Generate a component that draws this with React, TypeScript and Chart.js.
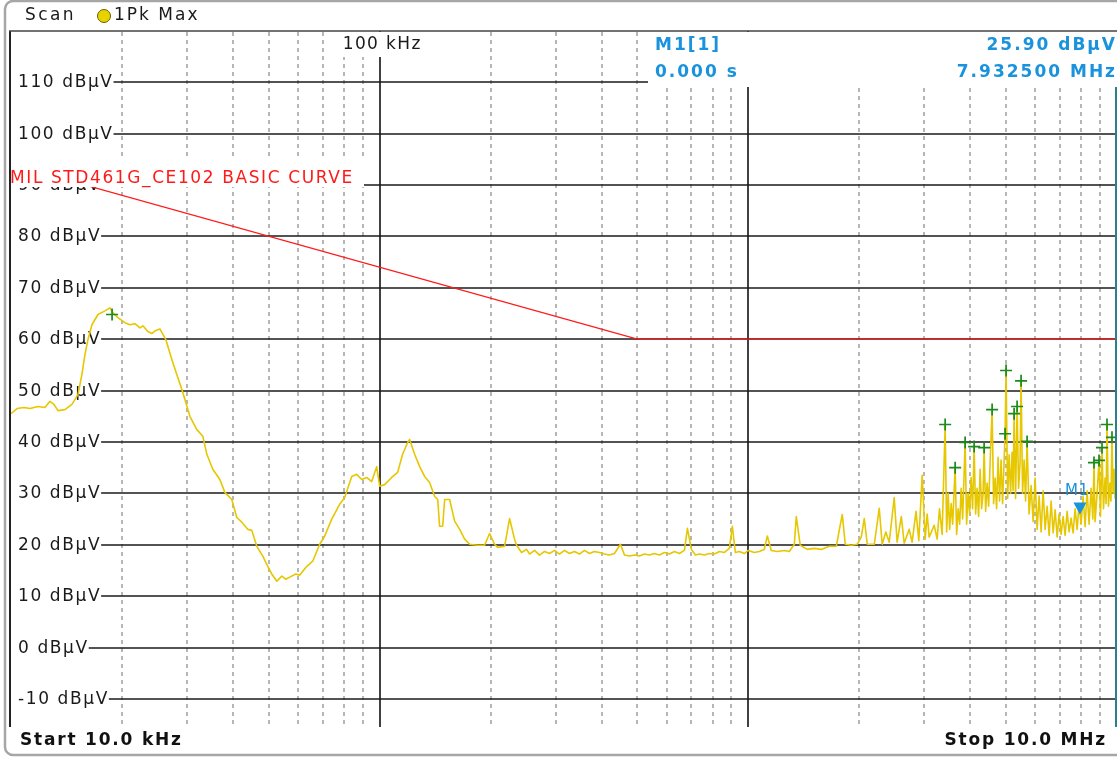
import React, { useEffect, useRef } from 'react';
import { Chart, registerables } from 'chart.js';

Chart.register(...registerables);

// ---------- DATA ----------
// Trace (1Pk Max), frequency in kHz and level in dBµV, split into segments
const lowFreqKHz = [
  10, 10.38, 10.84, 11.26, 11.84, 12.36, 12.75, 13.08, 13.41, 14.0, 14.63, 15.19, 15.57, 15.87, 16.17, 16.58, 17.21, 17.98, 18.55, 18.9,
  19.5, 20.37, 21.01, 21.68, 22.37, 22.79, 23.51, 24.1, 24.72, 25.34, 26.31, 27.32, 28.18, 29.07, 29.62, 30.56, 31.92, 33.14, 33.98, 35.27,
  36.85, 38.02, 39.71, 40.97, 42.27, 43.88, 44.99, 46.42, 48.19, 49.41, 50.97, 52.6, 54.26, 55.63, 57.04, 59.22, 60.72, 63.03, 65.84, 68.77,
  70.95, 74.13, 77.92, 80.39, 83.98, 86.65, 89.4, 92.22, 95.13, 98.15, 100, 103.2, 107.8, 111.9, 115.4, 119.1, 120.6, 124.4, 128.4, 132.4,
  136.6, 141.0, 143.7, 145.4, 148.2, 150.1, 154.8, 159.7, 164.8, 170.0, 175.4, 184.4, 192.6, 198.7, 205.0, 208.9, 218.2, 225.1, 232.2, 235.1,
  242.6, 250.3, 255.0, 263.1, 271.4, 280.1, 288.9, 298.1, 307.5, 317.2, 327.2, 337.6, 348.3, 359.3, 370.7, 382.4, 394.5, 407.0, 419.9, 433.4,
  449.9, 461.3, 475.9, 491.0, 506.5, 522.7, 539.2, 556.3, 573.9, 592.2, 610.9, 630.3, 650.2, 670.9, 683.5, 700.8, 718.5, 736.7, 760.1, 784.2,
  809.2, 834.6, 861.0, 888.2, 905.0, 922.1, 945.4, 975.4, 1000, 1038, 1071, 1105, 1126, 1154, 1198, 1252, 1292, 1333, 1349, 1383,
  1445, 1510, 1577, 1658, 1732, 1798, 1832, 1902, 1974, 2024, 2063, 2102,
];
const lowLevel = [
  45.5, 46.5, 46.7, 46.5, 46.9, 46.7, 47.9, 47.3, 46.1, 46.3, 47.3, 49.2, 53.1, 57.0, 59.9, 62.8, 64.8, 65.5, 66.1, 65.1,
  64.2, 63.2, 62.8, 63.0, 62.2, 62.6, 61.5, 61.1, 61.7, 62.0, 59.9, 56.0, 53.1, 50.2, 48.3, 45.0, 42.4, 41.1, 37.6, 34.7,
  32.7, 30.2, 28.8, 25.3, 24.4, 23.0, 22.8, 19.7, 17.8, 16.2, 14.3, 12.9, 13.9, 13.3, 13.7, 14.3, 14.1, 15.6, 16.8, 20.1,
  21.7, 25.0, 27.9, 29.2, 33.3, 33.7, 32.7, 33.1, 32.3, 35.2, 31.4, 31.7, 33.1, 34.1, 37.6, 39.9, 40.5, 37.6, 35.2, 33.3,
  32.1, 29.4, 28.8, 23.6, 23.6, 28.8, 28.8, 24.6, 23.0, 21.1, 20.1, 19.9, 19.9, 22.2, 20.1, 19.5, 19.7, 25.1, 21.1, 19.9,
  18.5, 19.1, 18.2, 18.9, 18.0, 18.7, 18.3, 18.9, 18.2, 18.9, 18.3, 18.7, 18.2, 18.9, 18.3, 18.7, 18.5, 18.2, 18.0, 18.3,
  20.1, 18.0, 17.8, 18.0, 17.8, 18.2, 18.0, 18.3, 18.0, 18.5, 18.2, 18.7, 18.3, 18.9, 23.2, 19.1, 18.0, 18.2, 18.0, 18.3,
  18.2, 18.7, 18.5, 19.3, 23.6, 18.5, 18.7, 18.3, 18.9, 18.5, 18.7, 19.1, 21.7, 18.9, 18.7, 18.9, 18.7, 20.1, 25.5, 19.9,
  19.1, 19.3, 19.1, 19.7, 19.7, 25.9, 20.1, 19.9, 20.1, 21.5, 25.1, 20.1,
];
const midFreqKHz = [2196, 2265, 2307, 2360, 2411, 2487, 2533, 2600, 2647, 2731, 2782, 2850, 2900, 2962, 3018, 3055, 3094, 3192, 3252, 3300, 3355, 3419];
const midLevel = [20.1, 27.1, 20.1, 22.5, 20.5, 29.2, 20.5, 25.5, 20.3, 23.0, 20.5, 26.5, 20.8, 33.5, 21.1, 26.0, 21.5, 23.8, 21.1, 27.0, 22.0, 43.4];
const burstFreqKHz = [
  3451, 3483, 3516, 3549, 3583, 3639, 3673, 3708, 3743, 3778, 3813, 3873, 3909, 3946, 3983, 4020, 4058, 4097, 4135, 4174,
  4213, 4253, 4293, 4334, 4361, 4402, 4443, 4485, 4527, 4584, 4627, 4670, 4714, 4758, 4803, 4848, 4894, 4971, 5002, 5050,
  5097, 5144, 5193, 5225, 5259, 5307, 5358, 5408, 5459, 5493, 5545, 5598, 5649, 5703,
];
const burstLevel = [
  22.5, 30.0, 23.0, 28.0, 24.0, 35.0, 22.0, 27.0, 24.0, 31.0, 25.0, 39.9, 24.0, 30.0, 26.0, 33.1, 27.0, 39.1, 26.0, 31.0,
  25.5, 34.7, 27.0, 30.0, 38.9, 26.5, 32.0, 27.5, 36.0, 46.3, 28.0, 33.0, 27.0, 37.0, 28.5, 36.5, 28.0, 41.6, 53.9, 29.0,
  37.5, 30.0, 38.0, 30.5, 45.5, 29.0, 46.9, 31.0, 36.0, 51.9, 30.0, 36.5, 28.5, 40.1,
];
const highFreqKHz = [
  5776, 5849, 5922, 5997, 6072, 6149, 6226, 6304, 6384, 6464, 6545, 6627, 6711, 6795, 6880, 6967, 7054, 7143, 7232, 7323,
  7415, 7508, 7602, 7698, 7794, 7892, 7991, 8092, 8193, 8296, 8400, 8506, 8600, 8662, 8721, 8830, 8937, 9020, 9106, 9190,
  9282, 9340, 9395, 9480, 9570, 9630, 9692, 9757, 9815, 9879, 10000,
];
const highLevel = [
  26.0, 31.5, 24.5, 33.0, 23.0, 29.5, 22.5, 30.5, 23.0, 27.5, 21.8, 28.5, 22.3, 26.8, 21.5, 26.0, 22.0, 25.5, 21.8, 26.5,
  22.5, 25.2, 22.3, 27.0, 23.0, 28.0, 24.0, 29.5, 23.5, 30.5, 24.0, 31.0, 25.0, 36.0, 24.5, 30.0, 36.4, 25.5, 38.9, 27.0,
  33.0, 28.0, 43.4, 27.5, 32.0, 28.5, 40.9, 30.0, 34.7, 29.0, 30.0,
];

const limitFreqKHz = [10, 500, 10000];
const limitLevel = [94, 60, 60];

const peakFreqKHz = [18.8, 3419, 3639, 3873, 4097, 4361, 4584, 4971, 5002, 5259, 5358, 5493, 5703, 8662, 8937, 9106, 9395, 9692];
const peakLevel = [64.8, 43.4, 35.0, 39.9, 39.1, 38.9, 46.3, 41.6, 53.9, 45.5, 46.9, 51.9, 40.1, 36.0, 36.4, 38.9, 43.4, 40.9];

const markerFreqKHz = 7932.5;
const markerLevel = 25.9;

const yTickValues = [110, 100, 90, 80, 70, 60, 50, 40, 30, 20, 10, 0, -10];
const decadeStartsKHz = [10, 100, 1000];
const minorMultipliers = [2, 3, 4, 5, 6, 7, 8, 9];
const majorFreqKHz = [100, 1000];

const limitName = 'MIL STD461G_CE102 BASIC CURVE';
const markerTexts = { name: 'M1[1]', time: '0.000 s', level: '25.90 dBµV', freq: '7.932500 MHz' };

// ---------- DRAW HELPERS ----------
const FONT = '"DejaVu Sans", Verdana, sans-serif';
const BLUE = '#1a93dc';

function txt(ctx: CanvasRenderingContext2D, s: string, x: number, y: number, font: string, color: string,
  align: CanvasTextAlign = 'left', spacing = '0px') {
  ctx.font = font;
  (ctx as any).letterSpacing = spacing;
  ctx.fillStyle = color;
  ctx.textAlign = align;
  ctx.textBaseline = 'middle';
  ctx.fillText(s, x, y);
  const w = ctx.measureText(s).width;
  (ctx as any).letterSpacing = '0px';
  return w;
}

const rsPlugin = {
  id: 'rsPlugin',
  beforeDraw(chart: any) {
    const { ctx, width, height } = chart;
    ctx.save();
    ctx.fillStyle = '#ffffff';
    ctx.fillRect(0, 0, width, height);
    ctx.restore();
  },
  beforeDatasetsDraw(chart: any) {
    const { ctx, chartArea: a, scales } = chart;
    const xs = scales.x, ys = scales.y;
    ctx.save();
    // minor dashed verticals
    ctx.strokeStyle = '#8f8f8f';
    ctx.lineWidth = 1.3;
    ctx.setLineDash([4, 4]);
    for (const d of decadeStartsKHz) {
      for (const m of minorMultipliers) {
        const px = Math.round(xs.getPixelForValue(d * m * 1000));
        ctx.beginPath();
        ctx.moveTo(px, a.top + 1);
        ctx.lineTo(px, a.bottom);
        ctx.stroke();
      }
    }
    ctx.setLineDash([]);
    // major verticals
    ctx.strokeStyle = '#111111';
    ctx.lineWidth = 1.6;
    for (const f of majorFreqKHz) {
      const px = Math.round(xs.getPixelForValue(f * 1000));
      ctx.beginPath();
      ctx.moveTo(px, a.top);
      ctx.lineTo(px, a.bottom);
      ctx.stroke();
    }
    // level labels + horizontal lines
    for (const v of yTickValues) {
      const py = Math.round(ys.getPixelForValue(v));
      const w = txt(ctx, `${v} dBµV`, 18, py + 1, `17px ${FONT}`, '#1a1a1a', 'left', '1.6px');
      ctx.strokeStyle = '#1a1a1a';
      ctx.lineWidth = 1.6;
      ctx.beginPath();
      ctx.moveTo(18 + w, py);
      ctx.lineTo(a.right, py);
      ctx.stroke();
    }
    ctx.restore();
  },
  afterDatasetsDraw(chart: any) {
    const { ctx, chartArea: a, scales } = chart;
    const xs = scales.x, ys = scales.y;
    ctx.save();

    // limit line label
    ctx.fillStyle = '#ffffff';
    ctx.fillRect(8, 160, 356, 27);
    txt(ctx, limitName, 10, 179, `17px ${FONT}`, '#ff1a1a', 'left', '1.6px');

    // 100 kHz label
    const p100 = xs.getPixelForValue(100000);
    ctx.fillStyle = '#ffffff';
    ctx.fillRect(p100 - 44, a.top + 1, 90, 25);
    txt(ctx, '100 kHz', p100 - 37, 45, `17px ${FONT}`, '#1a1a1a', 'left', '1.4px');

    // marker info box
    ctx.fillStyle = '#ffffff';
    ctx.fillRect(648, a.top + 1, 480, 55);
    txt(ctx, markerTexts.name, 655, 46, `bold 17px ${FONT}`, BLUE, 'left', '2px');
    txt(ctx, markerTexts.time, 655, 73, `bold 17px ${FONT}`, BLUE, 'left', '2px');
    txt(ctx, markerTexts.level, 1117, 46, `bold 17px ${FONT}`, BLUE, 'right', '2px');
    txt(ctx, markerTexts.freq, 1117, 73, `bold 17px ${FONT}`, BLUE, 'right', '2px');

    // right edge teal line
    ctx.strokeStyle = '#2c7f8e';
    ctx.lineWidth = 2;
    ctx.beginPath();
    ctx.moveTo(a.right - 1, 87);
    ctx.lineTo(a.right - 1, a.bottom);
    ctx.stroke();

    // M1 marker
    const mx = xs.getPixelForValue(markerFreqKHz * 1000);
    const my = ys.getPixelForValue(markerLevel);
    ctx.fillStyle = BLUE;
    ctx.beginPath();
    ctx.moveTo(mx, my);
    ctx.lineTo(mx - 6.5, my - 12);
    ctx.lineTo(mx + 6.5, my - 12);
    ctx.closePath();
    ctx.fill();
    txt(ctx, 'M1', mx - 15, my - 23, `15px ${FONT}`, BLUE, 'left', '1px');

    // frame lines
    ctx.strokeStyle = '#222222';
    ctx.lineWidth = 2;
    ctx.beginPath();
    ctx.moveTo(10, a.top);
    ctx.lineTo(10, a.bottom);
    ctx.stroke();
    ctx.strokeStyle = '#444444';
    ctx.lineWidth = 1.5;
    ctx.beginPath();
    ctx.moveTo(9, a.top);
    ctx.lineTo(chart.width, a.top);
    ctx.stroke();

    // header
    txt(ctx, 'Scan', 25, 16, `17px ${FONT}`, '#1a1a1a', 'left', '2.4px');
    ctx.beginPath();
    ctx.arc(104, 16, 6.5, 0, Math.PI * 2);
    ctx.fillStyle = '#e8d200';
    ctx.fill();
    ctx.strokeStyle = '#6b6000';
    ctx.lineWidth = 1;
    ctx.stroke();
    txt(ctx, '1Pk Max', 114, 16, `17px ${FONT}`, '#1a1a1a', 'left', '2px');

    // footer
    txt(ctx, 'Start 10.0 kHz', 20, 741, `bold 17px ${FONT}`, '#111111', 'left', '1.8px');
    txt(ctx, 'Stop 10.0 MHz', 1107, 741, `bold 17px ${FONT}`, '#111111', 'right', '1.8px');

    // outer rounded border
    ctx.strokeStyle = '#a6a6a6';
    ctx.lineWidth = 2.5;
    ctx.beginPath();
    (ctx as any).roundRect(5, 1, 1140, 754, 8);
    ctx.stroke();

    ctx.restore();
  },
};

export default function App() {
  const ref = useRef<HTMLCanvasElement>(null);
  useEffect(() => {
    document.body.style.margin = '0';
    const canvas = ref.current;
    if (!canvas) return;
    const traceFreqKHz = [...lowFreqKHz, ...midFreqKHz, ...burstFreqKHz, ...highFreqKHz];
    const traceLevel = [...lowLevel, ...midLevel, ...burstLevel, ...highLevel];
    const trace = traceFreqKHz.map((f, i) => ({ x: f * 1000, y: traceLevel[i] }));
    const limit = limitFreqKHz.map((f, i) => ({ x: f * 1000, y: limitLevel[i] }));
    const peaks = peakFreqKHz.map((f, i) => ({ x: f * 1000, y: peakLevel[i] }));
    const chart = new Chart(canvas, {
      type: 'line',
      data: {
        datasets: [
          {
            data: peaks,
            showLine: false,
            pointStyle: 'cross',
            pointRadius: 6,
            pointBorderWidth: 1.7,
            pointBorderColor: '#1a8a1a',
            borderColor: '#1a8a1a',
            order: 0,
          },
          {
            data: trace,
            borderColor: '#e6c700',
            borderWidth: 1.6,
            pointRadius: 0,
            tension: 0,
            borderJoinStyle: 'round',
            fill: false,
            order: 1,
          },
          {
            data: limit,
            borderColor: '#ff1a1a',
            borderWidth: 1.3,
            pointRadius: 0,
            tension: 0,
            fill: false,
            order: 2,
          },
        ],
      } as any,
      options: {
        animation: false,
        responsive: false,
        devicePixelRatio: 1,
        events: [],
        layout: { autoPadding: false, padding: { left: 11, top: 31, right: 0, bottom: 31 } },
        plugins: { legend: { display: false }, tooltip: { enabled: false } },
        scales: {
          x: { type: 'logarithmic', min: 10000, max: 10000000, display: false },
          y: { type: 'linear', min: -15.45, max: 119.95, display: false },
        },
      } as any,
      plugins: [rsPlugin],
    });
    return () => chart.destroy();
  }, []);
  return (
    <div style={{ width: 1117, height: 758, background: '#fff' }}>
      <canvas ref={ref} width={1117} height={758} style={{ display: 'block' }} />
    </div>
  );
}
